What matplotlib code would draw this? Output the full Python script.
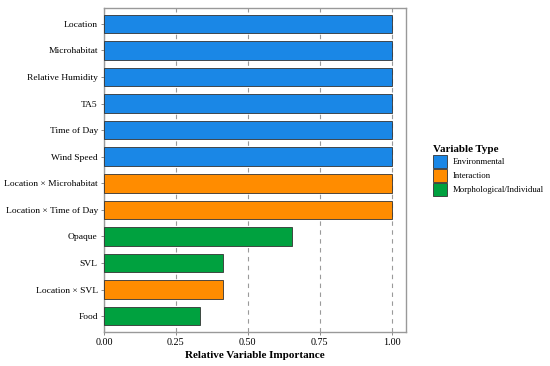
import matplotlib.pyplot as plt
from matplotlib.patches import Patch

# Variables, top to bottom
variables = ["Location", "Microhabitat", "Relative Humidity", "TA5", "Time of Day",
             "Wind Speed", "Location × Microhabitat", "Location × Time of Day",
             "Opaque", "SVL", "Location × SVL", "Food"]
importance = [1.0, 1.0, 1.0, 1.0, 1.0, 1.0, 1.0, 1.0, 0.653, 0.413, 0.413, 0.333]
var_type = ["Environmental"] * 6 + ["Interaction"] * 2 + \
    ["Morphological/Individual", "Morphological/Individual", "Interaction", "Morphological/Individual"]

type_names = ["Environmental", "Interaction", "Morphological/Individual"]
type_colors = {"Environmental": "#1a87e6", "Interaction": "#ff8c00",
               "Morphological/Individual": "#00a13f"}
ticks = [0.0, 0.25, 0.5, 0.75, 1.0]
tick_labels = ["0.00", "0.25", "0.50", "0.75", "1.00"]

plt.rcParams["font.family"] = ["Liberation Serif", "DejaVu Serif"]

fig = plt.figure(figsize=(5.5, 3.66), dpi=100)
ax = fig.add_axes([104 / 550, 1 - 332 / 366, (406 - 104) / 550, (332 - 8) / 366])

ypos = list(range(len(variables)))[::-1]
colors = [type_colors[t] for t in var_type]
ax.barh(ypos, importance, height=0.7, color=colors, edgecolor="#333333", linewidth=0.6, zorder=3)

ax.set_xlim(0, 1.05)
ax.set_ylim(-0.6, len(variables) - 0.4)
ax.set_xticks(ticks)
ax.set_xticklabels(tick_labels, fontsize=7.3)
ax.set_yticks(ypos)
ax.set_yticklabels(variables, fontsize=6.8)
ax.tick_params(length=2.5, color="#777777", width=0.6, pad=2)
ax.xaxis.grid(True, linestyle=(0, (4, 4)), color="#9a9a9a", linewidth=0.8, zorder=0)
for s in ax.spines.values():
    s.set_color("#999999")
    s.set_linewidth(1.0)

ax.set_xlabel("Relative Variable Importance", fontsize=8, fontweight="bold", labelpad=3)

handles = [Patch(facecolor=type_colors[t], edgecolor="#333333", linewidth=0.6, label=t)
           for t in type_names]
leg = fig.legend(handles=handles, title="Variable Type", loc="upper left",
                 bbox_to_anchor=(425 / 550, 1 - 137 / 366), frameon=False,
                 fontsize=6.3, title_fontproperties={"weight": "bold", "size": 7.9},
                 handlelength=1.6, handleheight=1.85, handletextpad=0.7,
                 labelspacing=0.15)
leg._legend_box.align = "left"

fig.savefig("out.png", dpi=100)
